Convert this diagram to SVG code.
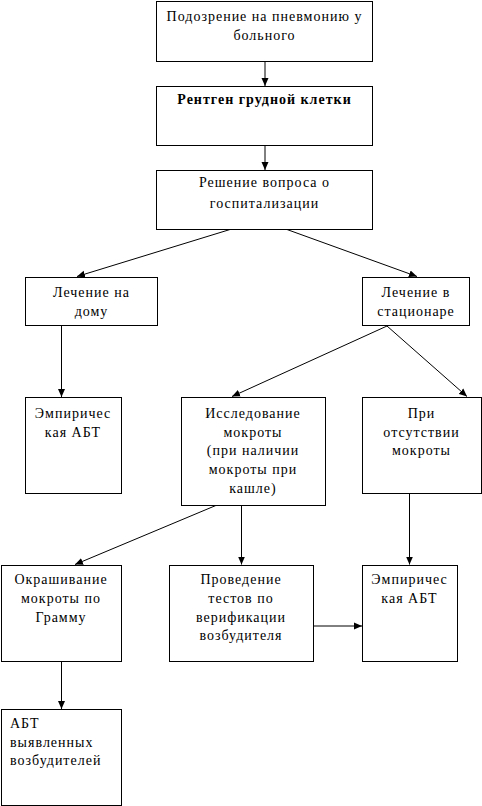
<svg xmlns="http://www.w3.org/2000/svg" width="482" height="806" viewBox="0 0 482 806">
<defs>
<marker id="ah" viewBox="0 0 8 8" refX="8" refY="4" markerWidth="8" markerHeight="8" markerUnits="userSpaceOnUse" orient="auto">
<path d="M0,0.5 L8,4 L0,7.5 Z" fill="#000"/>
</marker>
</defs>
<style>
rect{fill:#fff;stroke:#000;stroke-width:1}
text{font-family:'Liberation Serif','DejaVu Serif',serif;font-size:14px;fill:#000;text-anchor:middle;letter-spacing:1px}
.b{font-weight:bold;letter-spacing:1px}
.l{text-anchor:start}
#edges line{stroke:#000;stroke-width:1;marker-end:url(#ah)}
</style>
<rect x="0" y="0" width="482" height="806" style="fill:#fff;stroke:none"/>
<g id="edges">
<line x1="265" y1="61" x2="265" y2="86"/>
<line x1="265" y1="145" x2="265" y2="170"/>
<line x1="230" y1="229.5" x2="77" y2="276.5"/>
<line x1="287" y1="229.5" x2="417" y2="276.5"/>
<line x1="61.5" y1="326" x2="61.5" y2="397"/>
<line x1="387" y1="326" x2="232" y2="396.5"/>
<line x1="387" y1="326" x2="467" y2="396.5"/>
<line x1="217" y1="505" x2="75" y2="564.5"/>
<line x1="241.5" y1="505" x2="241.5" y2="564.5"/>
<line x1="409.5" y1="493" x2="409.5" y2="564.5"/>
<line x1="313" y1="626" x2="362" y2="626"/>
<line x1="61.5" y1="661" x2="61.5" y2="709"/>
</g>
<g id="n1"><rect x="156.5" y="1.5" width="216" height="60"/>
<text x="264.5" y="21">Подозрение на пневмонию у</text><text x="264.5" y="40">больного</text></g>
<g id="n2"><rect x="156.5" y="86.5" width="216" height="59"/>
<text class="b" x="264.5" y="104">Рентген грудной клетки</text></g>
<g id="n3"><rect x="156.5" y="170.5" width="216" height="59"/>
<text x="264.5" y="187">Решение вопроса о</text><text x="264.5" y="208">госпитализации</text></g>
<g id="n4"><rect x="25.5" y="277.5" width="132" height="48"/>
<text x="91.5" y="297">Лечение на</text><text x="91.5" y="316">дому</text></g>
<g id="n5"><rect x="362.5" y="277.5" width="107" height="48"/>
<text x="416" y="297">Лечение в</text><text x="416" y="316">стационаре</text></g>
<g id="n6"><rect x="25.5" y="397.5" width="96" height="96"/>
<text x="73" y="418">Эмпиричес</text><text x="73" y="437">кая  АБТ</text></g>
<g id="n7"><rect x="181.5" y="397.5" width="144" height="108"/>
<text x="253" y="418">Исследование</text><text x="253" y="437">мокроты</text><text x="253" y="455">(при наличии</text><text x="253" y="474">мокроты при</text><text x="253" y="493">кашле)</text></g>
<g id="n8"><rect x="362.5" y="397.5" width="119" height="96"/>
<text x="421.5" y="418">При</text><text x="421.5" y="437">отсутствии</text><text x="421.5" y="455">мокроты</text></g>
<g id="n9"><rect x="1.5" y="565.5" width="120" height="96"/>
<text x="61" y="584">Окрашивание</text><text x="61" y="603">мокроты по</text><text x="61" y="622">Грамму</text></g>
<g id="n10"><rect x="169.5" y="565.5" width="144" height="96"/>
<text x="241" y="584">Проведение</text><text x="241" y="603">тестов по</text><text x="241" y="622">верификации</text><text x="241" y="640">возбудителя</text></g>
<g id="n11"><rect x="362.5" y="565.5" width="95" height="96"/>
<text x="409.5" y="584">Эмпиричес</text><text x="409.5" y="603">кая  АБТ</text></g>
<g id="n12"><rect x="1.5" y="709.5" width="120" height="96"/>
<text class="l" x="10" y="728">АБТ</text><text class="l" x="10" y="747">выявленных</text><text class="l" x="10" y="765">возбудителей</text></g>
</svg>
